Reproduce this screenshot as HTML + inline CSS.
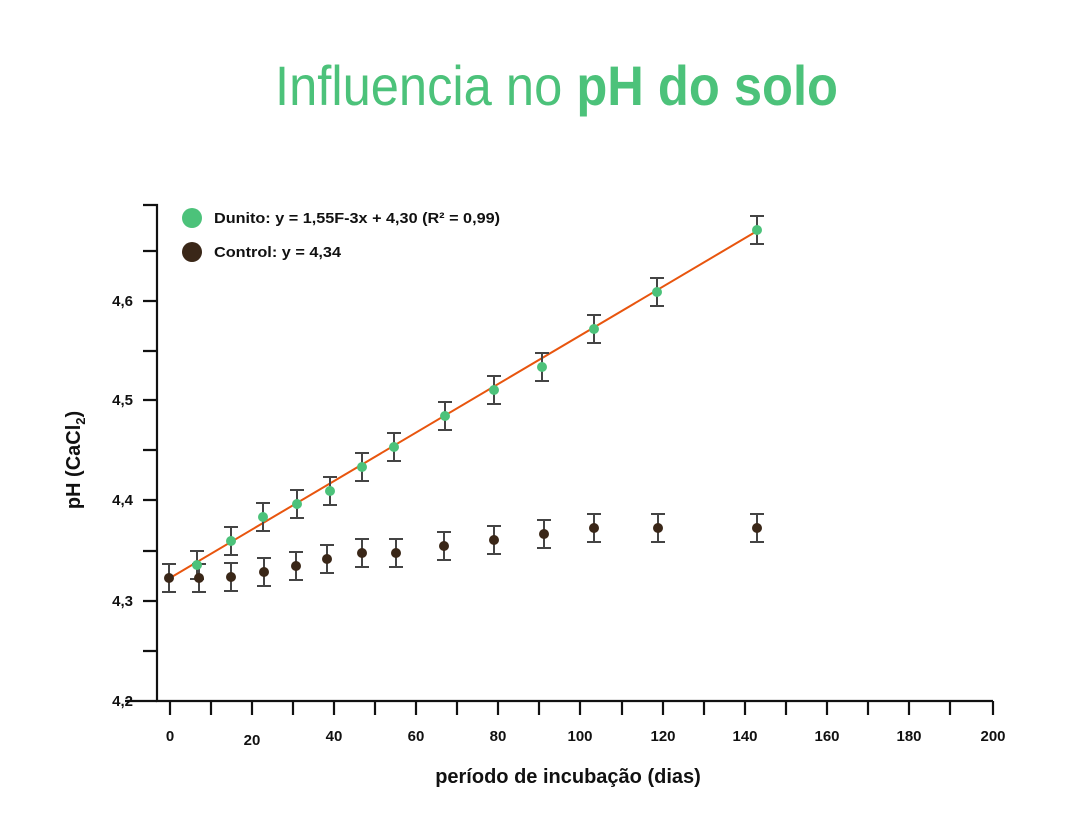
<!DOCTYPE html>
<html><head><meta charset="utf-8"><style>
html,body{margin:0;padding:0;background:#fff;}
svg{display:block;font-family:"Liberation Sans",Arial,sans-serif;}
</style></head><body>
<svg width="1080" height="834" viewBox="0 0 1080 834" xmlns="http://www.w3.org/2000/svg">
<rect width="1080" height="834" fill="#fff"/>
<text x="275" y="105" font-size="56" fill="#4cc27a" textLength="563" lengthAdjust="spacingAndGlyphs"><tspan font-weight="300">Influencia no </tspan><tspan font-weight="bold">pH do solo</tspan></text>
<g stroke="#111" stroke-width="2.2" fill="none">
<path d="M143 205 H157 V701 H993"/>
<path d="M143 251H157M143 301H157M143 351H157M143 400H157M143 450H157M143 500H157M143 551H157M143 601H157M143 651H157M125 701H157"/>
<path d="M170 701v14M211 701v14M252 701v14M293 701v14M334 701v14M375 701v14M416 701v14M457 701v14M498 701v14M539 701v14M580 701v14M622 701v14M663 701v14M704 701v14M745 701v14M786 701v14M827 701v14M868 701v14M909 701v14M950 701v14M993 701v14"/>
</g>
<g font-size="15" font-weight="bold" fill="#111" text-anchor="end">
<text x="133" y="306">4,6</text><text x="133" y="405">4,5</text><text x="133" y="505">4,4</text><text x="133" y="606">4,3</text><text x="133" y="706">4,2</text>
</g>
<g font-size="15" font-weight="bold" fill="#111" text-anchor="middle">
<text x="170" y="741">0</text><text x="252" y="745">20</text><text x="334" y="741">40</text><text x="416" y="741">60</text><text x="498" y="741">80</text><text x="580" y="741">100</text><text x="663" y="741">120</text><text x="745" y="741">140</text><text x="827" y="741">160</text><text x="909" y="741">180</text><text x="993" y="741">200</text>
</g>
<text x="568" y="783" font-size="20" font-weight="bold" fill="#111" text-anchor="middle">período de incubação (dias)</text>
<text transform="translate(80,460) rotate(-90)" font-size="20" font-weight="bold" fill="#111" text-anchor="middle">pH (CaCl<tspan font-size="13" dy="5">2</tspan><tspan dy="-5">)</tspan></text>
<line x1="170" y1="578" x2="757" y2="231" stroke="#e8550e" stroke-width="2"/>
<g stroke="#444" stroke-width="2" fill="none">
<path d="M197 551v28M190 551h14M190 579h14M231 527v28M224 527h14M224 555h14M263 503v28M256 503h14M256 531h14M297 490v28M290 490h14M290 518h14M330 477v28M323 477h14M323 505h14M362 453v28M355 453h14M355 481h14M394 433v28M387 433h14M387 461h14M445 402v28M438 402h14M438 430h14M494 376v28M487 376h14M487 404h14M542 353v28M535 353h14M535 381h14M594 315v28M587 315h14M587 343h14M657 278v28M650 278h14M650 306h14M757 216v28M750 216h14M750 244h14"/>
<path d="M169 564v28M162 564h14M162 592h14M199 564v28M192 564h14M192 592h14M231 563v28M224 563h14M224 591h14M264 558v28M257 558h14M257 586h14M296 552v28M289 552h14M289 580h14M327 545v28M320 545h14M320 573h14M362 539v28M355 539h14M355 567h14M396 539v28M389 539h14M389 567h14M444 532v28M437 532h14M437 560h14M494 526v28M487 526h14M487 554h14M544 520v28M537 520h14M537 548h14M594 514v28M587 514h14M587 542h14M658 514v28M651 514h14M651 542h14M757 514v28M750 514h14M750 542h14"/>
</g>
<g fill="#4cc27a">
<circle cx="197" cy="565" r="5"/><circle cx="231" cy="541" r="5"/><circle cx="263" cy="517" r="5"/><circle cx="297" cy="504" r="5"/><circle cx="330" cy="491" r="5"/><circle cx="362" cy="467" r="5"/><circle cx="394" cy="447" r="5"/><circle cx="445" cy="416" r="5"/><circle cx="494" cy="390" r="5"/><circle cx="542" cy="367" r="5"/><circle cx="594" cy="329" r="5"/><circle cx="657" cy="292" r="5"/><circle cx="757" cy="230" r="5"/>
</g>
<g fill="#3a2718">
<circle cx="169" cy="578" r="5"/><circle cx="199" cy="578" r="5"/><circle cx="231" cy="577" r="5"/><circle cx="264" cy="572" r="5"/><circle cx="296" cy="566" r="5"/><circle cx="327" cy="559" r="5"/><circle cx="362" cy="553" r="5"/><circle cx="396" cy="553" r="5"/><circle cx="444" cy="546" r="5"/><circle cx="494" cy="540" r="5"/><circle cx="544" cy="534" r="5"/><circle cx="594" cy="528" r="5"/><circle cx="658" cy="528" r="5"/><circle cx="757" cy="528" r="5"/>
</g>
<circle cx="192" cy="218" r="10" fill="#4cc27a"/>
<circle cx="192" cy="252" r="10" fill="#3a2718"/>
<g font-size="15" font-weight="bold" fill="#111">
<text x="214" y="223" textLength="286" lengthAdjust="spacingAndGlyphs">Dunito: y = 1,55F-3x + 4,30 (R² = 0,99)</text>
<text x="214" y="257" textLength="127" lengthAdjust="spacingAndGlyphs">Control: y = 4,34</text>
</g>
</svg>
</body></html>
